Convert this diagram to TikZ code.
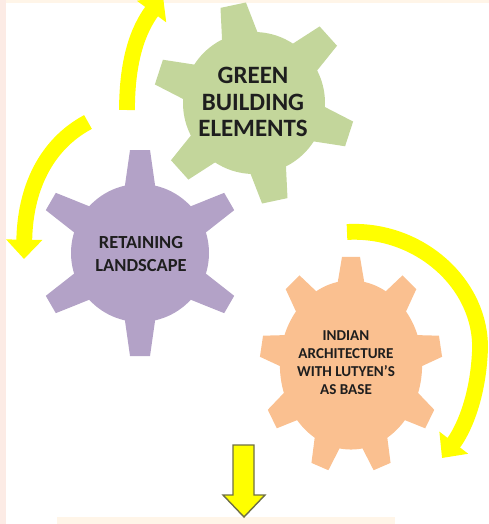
\documentclass[tikz,border=0pt]{standalone}
\usepackage{fontspec}
\setmainfont{Carlito}
\usetikzlibrary{arrows.meta}
\definecolor{gearGreen}{HTML}{C3D69B}
\definecolor{gearPurple}{HTML}{B3A2C7}
\definecolor{gearOrange}{HTML}{FAC090}
\definecolor{turnYellow}{HTML}{FFFF00}
\definecolor{edgeOlive}{HTML}{707044}
\definecolor{stripPink}{HTML}{FCEBE5}
\definecolor{stripPeach}{HTML}{FFF5E8}
\definecolor{labelInk}{HTML}{1E1E1E}
\def\gear[#1](#2)(#3:#4:#5:#6:#7){%
	\begin{scope}[shift={(#2)},#1]
		\fill (0,0) circle (#5);
		\foreach \k in {1,...,#3}
			\fill[rotate={#4+360/#3*(\k-1)}] (#5-8,-#7-6) -- (#6,-#7) -- (#6,#7) -- (#5-8,#7+6) -- cycle;
	\end{scope}}
\tikzset{
	turnArrow/.style={draw=turnYellow, line width=9pt, -{Triangle[width=20pt,length=11pt]}},
	blockArrow/.style={fill=turnYellow, draw=edgeOlive, line width=0.8pt, line join=miter},
	gearLabel/.style={align=center, text=labelInk, inner sep=0pt}
}

\begin{document}
\begin{tikzpicture}[x=0.02cm, y=-0.02cm]
			%%%%% START %%%%%
			\useasboundingbox (0,0) rectangle (489,524);
			
			\fill[stripPink] (0,0) rectangle (6,524);
			\fill[stripPeach] (6,0) rectangle (489,3);
			\fill[stripPeach] (57,517) rectangle (395,524);
			
			% gears
			\gear[color=gearGreen](254,103)(6:102:71:100:13)
			\gear[color=gearPurple](140,253)(6:90:69:103:10)
			\gear[color=gearOrange, xscale=0.9, yscale=1.07](351,365)(9:90:79:101:10)
			
			\node[gearLabel, font=\fontsize{14.2}{15.3}\selectfont\bfseries] (elements) at (253,102) {GREEN\\BUILDING\\ELEMENTS};
			\node[gearLabel, font=\fontsize{10.5}{13}\selectfont\bfseries] (landscape) at (141,254) {RETAINING\\LANDSCAPE};
			\node[gearLabel, font=\fontsize{8.6}{10.2}\selectfont\bfseries] (lutyens) at (346,363) {INDIAN\\ARCHITECTURE\\WITH LUTYEN’S\\AS BASE};
			
			% turning arrows
			\draw[turnArrow] (127,110) .. controls (127,60) and (138,30) .. (163,-4);
			\draw[turnArrow] (88,122) .. controls (45,145) and (25,190) .. (24,259);
			\draw[turnArrow] (347,232) .. controls (420,228) and (482,285) .. (480,350) .. controls (478,400) and (462,432) .. (442,458);
			
			\draw[blockArrow] (233,445) -- (254,445) -- (254,495) -- (265,495) -- (244,517) -- (223,495) -- (233,495) -- cycle;
			
			%%%%% END %%%%%
\end{tikzpicture}
\end{document}
